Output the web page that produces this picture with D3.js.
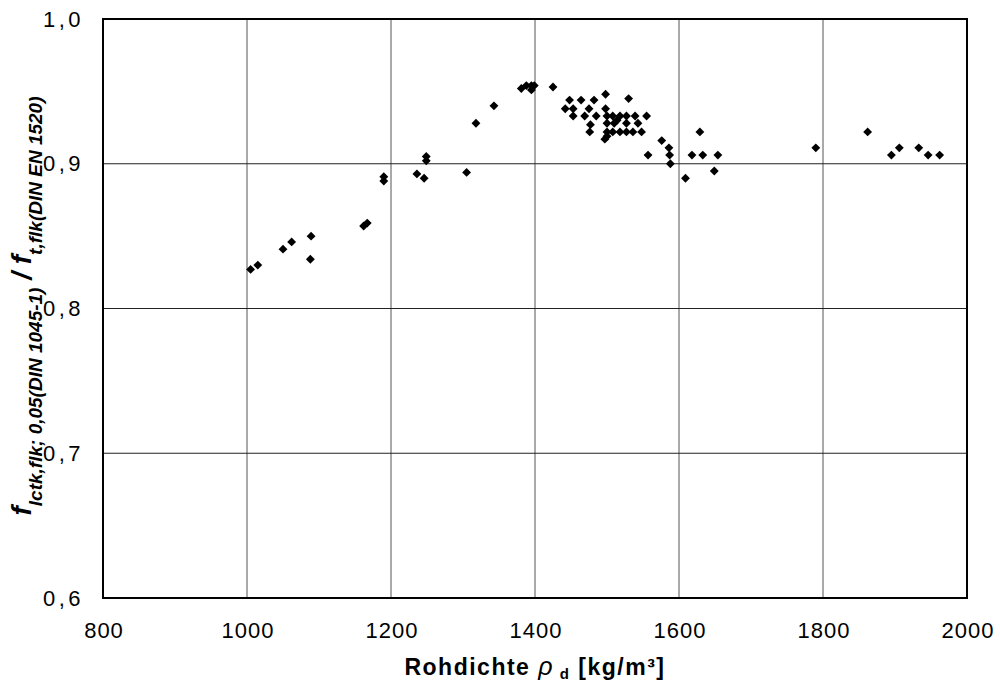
<!DOCTYPE html>
<html>
<head>
<meta charset="utf-8">
<script src="https://cdn.jsdelivr.net/npm/d3@7"></script>
<style>
  html, body { margin: 0; padding: 0; background: #fff; }
  svg { display: block; }
</style>
</head>
<body>
<svg id="chart" width="1000" height="691"></svg>
<script>
// Rohdichte [kg/m³]
const density = [
  1005, 1015, 1050, 1062, 1089, 1088, 1162, 1167,
  1190, 1190, 1236, 1246, 1249, 1249, 1305, 1318, 1343,
  1381, 1388, 1395, 1395, 1399, 1425,
  1448, 1464, 1482, 1498, 1530,
  1442, 1453, 1475, 1498,
  1453, 1469, 1485, 1500, 1508, 1518, 1527, 1539, 1555,
  1477, 1500, 1510, 1514, 1527, 1543,
  1476, 1500, 1508, 1518, 1527, 1536, 1548,
  1497, 1500,
  1557, 1576, 1586, 1587, 1588,
  1609, 1618, 1629, 1633, 1649, 1654,
  1790, 1862, 1895, 1906, 1933, 1946, 1962
];
// Verhältnis f_lctk,flk;0,05 / f_t,flk
const ratio = [
  0.827, 0.830, 0.841, 0.846, 0.850, 0.834, 0.857, 0.859,
  0.891, 0.888, 0.893, 0.890, 0.905, 0.902, 0.894, 0.928, 0.940,
  0.952, 0.954, 0.954, 0.951, 0.954, 0.953,
  0.944, 0.944, 0.944, 0.948, 0.945,
  0.938, 0.938, 0.938, 0.938,
  0.933, 0.933, 0.933, 0.933, 0.933, 0.933, 0.933, 0.933, 0.933,
  0.927, 0.928, 0.928, 0.930, 0.928, 0.928,
  0.922, 0.922, 0.922, 0.922, 0.922, 0.922, 0.922,
  0.917, 0.919,
  0.906, 0.916, 0.911, 0.906, 0.900,
  0.890, 0.906, 0.922, 0.906, 0.895, 0.906,
  0.911, 0.922, 0.906, 0.911, 0.911, 0.906, 0.906
];
const xTicks = [800, 1000, 1200, 1400, 1600, 1800, 2000];
const yTicks = [0.6, 0.7, 0.8, 0.9, 1.0];

const svg = d3.select("#chart");
const plotL = 103, plotR = 967, plotT = 19, plotB = 598;

const x = d3.scaleLinear().domain([800, 2000]).range([plotL, plotR]);
const y = d3.scaleLinear().domain([0.6, 1.0]).range([plotB, plotT]);

const fontFam = "'Liberation Sans', Arial, Helvetica, sans-serif";

// grid
const grid = svg.append("g");
grid.selectAll("line.gx").data(xTicks.slice(1, -1)).join("line")
  .attr("x1", d => x(d)).attr("x2", d => x(d))
  .attr("y1", plotT).attr("y2", plotB)
  .attr("stroke", "#555").attr("stroke-width", 1);
grid.selectAll("line.gy").data(yTicks.slice(1, -1)).join("line")
  .attr("x1", plotL).attr("x2", plotR)
  .attr("y1", d => y(d)).attr("y2", d => y(d))
  .attr("stroke", "#222").attr("stroke-width", 1.2);

// axes (labels only, frame drawn separately)
const xAxis = d3.axisBottom(x).tickValues(xTicks).tickSize(0).tickPadding(24)
  .tickFormat(d3.format("d"));
const gx = svg.append("g").attr("transform", `translate(0,${plotB})`).call(xAxis);
gx.select(".domain").remove();
gx.selectAll("text").attr("font-family", fontFam).attr("font-size", 22)
  .attr("letter-spacing", 1).attr("dx", 0.5).attr("fill", "#000");

const yAxis = d3.axisLeft(y).tickValues(yTicks).tickSize(0).tickPadding(19)
  .tickFormat(d => d3.format(".1f")(d).replace(".", ","));
const gy = svg.append("g").attr("transform", `translate(${plotL},0)`).call(yAxis);
gy.select(".domain").remove();
gy.selectAll("text").attr("font-family", fontFam).attr("font-size", 22)
  .attr("letter-spacing", 3.5).attr("fill", "#000");

// frame
svg.append("rect")
  .attr("x", plotL).attr("y", plotT)
  .attr("width", plotR - plotL).attr("height", plotB - plotT)
  .attr("fill", "none").attr("stroke", "#000").attr("stroke-width", 2);

// points
const diamond = d3.symbol().type(d3.symbolDiamond2).size(50);
svg.append("g").selectAll("path").data(density.map((d, i) => [d, ratio[i]])).join("path")
  .attr("d", diamond)
  .attr("transform", d => `translate(${x(d[0])},${y(d[1])})`)
  .attr("fill", "#000");

// x axis title
const xt = svg.append("text")
  .attr("x", (plotL + plotR) / 2).attr("y", 675)
  .attr("text-anchor", "middle")
  .attr("font-family", fontFam).attr("font-weight", "bold").attr("font-size", 23)
  .attr("letter-spacing", 1.5);
xt.append("tspan").text("Rohdichte ");
xt.append("tspan").attr("font-style", "italic").attr("font-weight", "normal").attr("font-size", 25).text("ρ");
xt.append("tspan").attr("font-size", 15).attr("dy", 4).text(" d");
xt.append("tspan").attr("dy", -4).text(" [kg/m³]");

// y axis title
const yt = svg.append("text")
  .attr("transform", `translate(31,306) rotate(-90)`)
  .attr("text-anchor", "middle")
  .attr("font-family", fontFam).attr("font-weight", "bold").attr("font-style", "italic")
  .attr("font-size", 28);
yt.append("tspan").text("f");
yt.append("tspan").attr("font-size", 19).attr("dy", 11).text("lctk,flk; 0,05(DIN 1045-1)");
yt.append("tspan").attr("dy", -11).text(" / f");
yt.append("tspan").attr("font-size", 19).attr("dy", 11).text("t,flk(DIN EN 1520)");
</script>
</body>
</html>
